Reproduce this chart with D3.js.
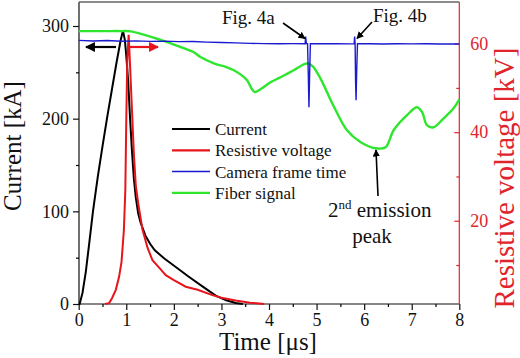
<!DOCTYPE html>
<html><head><meta charset="utf-8">
<script src="https://cdn.jsdelivr.net/npm/d3@7"></script>
<style>body{margin:0;background:#fff}svg{display:block}</style>
</head><body><svg id="c" width="520" height="358" font-family="'Liberation Serif', 'DejaVu Serif', Times, serif"></svg>
<script>
// time [µs], current [kA]
const currentT = [0,0.02,0.08,0.15,0.22,0.3,0.4,0.5,0.6,0.7,0.8,0.88,0.93,0.97,1.0,1.04,1.08,1.12,1.16,1.2,1.25,1.3,1.4,1.5,1.6,1.8,2.04,2.3,2.6,2.88,3.1,3.3,3.45];
const currentI = [0,0,12,35,65,100,137,170,202,232,262,284,295,285,268,240,200,165,135,115,98,88,74,65,58,49,40,30,19,9,4,1,0];
// time [µs], resistive voltage [kV]
const voltT = [0.55,0.64,0.7,0.78,0.85,0.9,0.95,0.98,1.0,1.02,1.05,1.08,1.12,1.16,1.2,1.25,1.34,1.45,1.55,1.7,1.83,2.0,2.25,2.5,2.81,3.0,3.3,3.6,3.9];
const voltV = [1.2,1.4,2.5,4.4,7.4,10.7,17.9,26.9,42.7,56,62,55,45,35,28,24,18,13.8,11.1,9.3,7.7,6.6,5.1,4.4,3.2,2.6,2.0,1.5,1.2];
// camera frame time (left-axis units)
const camT = [0,0.3,0.6,0.9,1.2,1.5,1.8,2.1,2.4,2.7,3.0,3.3,3.6,3.9,4.2,4.5,4.76,4.77,4.785,4.81,4.825,4.84,4.855,4.87,5.1,5.4,5.7,5.79,5.8,5.81,5.82,5.83,5.845,5.86,6.1,6.4,6.7,7.0,7.3,7.6,7.9,8.0];
const camI = [284.5,283.8,284.3,283.5,284.0,283.4,283.7,283.1,283.3,282.6,282.2,281.8,281.3,281.0,280.8,281.0,280.9,288.5,281.2,281.0,250,212.3,250,281.0,280.8,281.0,280.7,280.9,288.5,281.0,240,219.8,255,281.0,280.8,280.6,280.9,280.7,280.8,280.5,280.7,280.6];
// fiber signal (arbitrary, left-axis units)
const fibT = [0,0.5,0.9,1.09,1.72,2.14,2.42,2.56,2.84,3.09,3.26,3.40,3.54,3.63,3.70,3.82,4.03,4.24,4.52,4.73,4.81,4.92,5.08,5.36,5.64,5.92,6.24,6.45,6.62,6.90,7.11,7.22,7.32,7.46,7.67,7.88,8.0];
const fibI = [294.5,294.5,294.5,294.2,285.0,277.3,271.6,266.5,259.7,255.9,252.2,247.8,241.4,232.8,228.8,231.7,239.2,244.6,252.2,258.6,259.7,256.5,243.5,213.4,187.5,174.9,168.1,169.2,187.5,203.7,212.3,206.9,192.9,190.7,200.4,211.2,220.9];
const xTicks = [0,1,2,3,4,5,6,7,8];
const leftTicks = [0,100,200,300];
const rightTicks = [20,40,60];
const legendLabels = ["Current","Resistive voltage","Camera frame time","Fiber signal"];

const FONT = "'Liberation Serif', 'DejaVu Serif', Times, serif";
const colors = {black:"#000", red:"#e8141c", blue:"#1a1ad0", green:"#2ee62e", axisRed:"#e0242c"};
const svg = d3.select("#c");
const L = 79, R = 459.3, T = 2, B = 304;
const x = d3.scaleLinear().domain([0,8]).range([78.7,R]);
const yL = d3.scaleLinear().domain([0,325.9]).range([B,T]);
const yR = d3.scaleLinear().domain([1.2,69.4]).range([B,T]);

// axes
const axB = d3.axisBottom(x).tickValues(xTicks).tickSize(6).tickPadding(3).tickFormat(d3.format("d"));
const gB = svg.append("g").attr("transform",`translate(0,${B})`).call(axB);
const axBm = d3.axisBottom(x).tickValues(d3.range(0.5,8,1)).tickSize(3).tickFormat("");
svg.append("g").attr("transform",`translate(0,${B})`).call(axBm).select(".domain").remove();
const axL = d3.axisLeft(yL).tickValues(leftTicks).tickSize(6).tickPadding(4).tickFormat(d3.format("d"));
const gL = svg.append("g").attr("transform",`translate(${L},0)`).call(axL);
const axLm = d3.axisLeft(yL).tickValues([50,150,250]).tickSize(3).tickFormat("");
svg.append("g").attr("transform",`translate(${L},0)`).call(axLm).select(".domain").remove();
const axR = d3.axisRight(yR).tickValues(rightTicks).tickSizeInner(-5).tickSizeOuter(0).tickPadding(11).tickFormat(d3.format("d"));
const gR = svg.append("g").attr("transform",`translate(${R},0)`).call(axR);
const axRm = d3.axisRight(yR).tickValues([10,30,50]).tickSizeInner(-3).tickSizeOuter(0).tickFormat("");
const gRm = svg.append("g").attr("transform",`translate(${R},0)`).call(axRm);
gRm.select(".domain").remove();
svg.selectAll("g").attr("font-family",FONT);
[gB,gL].forEach(g=>{g.selectAll("text").attr("font-size",18).attr("fill","#111");g.selectAll("line,path").attr("stroke","#111").attr("stroke-width",1.2);});
gL.select(".domain").attr("d",`M0,${B}V${T}`);
gB.select(".domain").attr("d",`M${L},0H${R}`);
gR.selectAll("text").attr("font-size",18).attr("fill",colors.axisRed);
gR.selectAll("line,path").attr("stroke",colors.axisRed).attr("stroke-width",1.2);
gR.select(".domain").attr("d",`M0,${B}V${T}`);
gRm.selectAll("line").attr("stroke",colors.axisRed).attr("stroke-width",1.2);
svg.selectAll(".tick line").attr("stroke-width",1.2);
// top frame
svg.append("line").attr("x1",L).attr("x2",R).attr("y1",T).attr("y2",T).attr("stroke","#666").attr("stroke-width",1.5);

// series
const lineL = (ts,vs)=>d3.line().x((d,i)=>x(ts[i])).y((d,i)=>yL(vs[i]))(ts);
const lineR = (ts,vs)=>d3.line().x((d,i)=>x(ts[i])).y((d,i)=>yR(vs[i]))(ts);
svg.append("path").attr("d",lineL(currentT,currentI)).attr("fill","none").attr("stroke",colors.black).attr("stroke-width",2);
svg.append("path").attr("d",lineR(voltT,voltV)).attr("fill","none").attr("stroke",colors.red).attr("stroke-width",2);
svg.append("path").attr("d",d3.line().curve(d3.curveCatmullRom).x((d,i)=>x(fibT[i])).y((d,i)=>yL(fibI[i]))(fibT)).attr("fill","none").attr("stroke",colors.green).attr("stroke-width",2.4);
svg.append("path").attr("d",lineL(camT,camI)).attr("fill","none").attr("stroke",colors.blue).attr("stroke-width",1.4);

// legend
const legColors = [colors.black,colors.red,colors.blue,colors.green];
const legW = [2.2,2.2,1.5,2.4];
legendLabels.forEach((lab,i)=>{
  const yy = 129 + i*21.3;
  svg.append("line").attr("x1",172).attr("x2",210).attr("y1",yy).attr("y2",yy).attr("stroke",legColors[i]).attr("stroke-width",legW[i]);
  svg.append("text").attr("x",215).attr("y",yy+6).attr("font-size",17).attr("fill","#111").text(lab);
});

// arrow markers
const defs = svg.append("defs");
function mk(id,col){defs.append("marker").attr("id",id).attr("viewBox","0 0 10 10").attr("refX",9).attr("refY",5).attr("markerWidth",4.5).attr("markerHeight",4.5).attr("orient","auto").attr("markerUnits","strokeWidth").append("path").attr("d","M0,0L10,5L0,10z").attr("fill",col);}
mk("ak","#000"); mk("ar",colors.red);
function arrow(x1,y1,x2,y2,col,id,w){svg.append("line").attr("x1",x1).attr("y1",y1).attr("x2",x2).attr("y2",y2).attr("stroke",col).attr("stroke-width",w).attr("marker-end",`url(#${id})`);}
arrow(116,47,86,47,"#000","ak",2.2);
arrow(129,47,158,47,colors.red,"ar",2.2);
arrow(283,23,305,38.5,"#000","ak",1.6);
arrow(372,22,357,38.5,"#000","ak",1.6);
arrow(378,196,376,150,"#000","ak",1.6);

// annotations
svg.append("text").attr("x",222).attr("y",24).attr("font-size",19).attr("fill","#111").text("Fig. 4a");
svg.append("text").attr("x",373).attr("y",22).attr("font-size",19).attr("fill","#111").text("Fig. 4b");
const t2 = svg.append("text").attr("x",328).attr("y",217).attr("font-size",21).attr("fill","#111");
t2.append("tspan").text("2");
t2.append("tspan").attr("dy",-8).attr("font-size",13).text("nd");
t2.append("tspan").attr("dy",8).text(" emission");
svg.append("text").attr("x",372).attr("y",243).attr("font-size",21).attr("text-anchor","middle").attr("fill","#111").text("peak");

// titles
svg.append("text").attr("transform","translate(21,146) rotate(-90)").attr("text-anchor","middle").attr("font-size",25).attr("fill","#111").text("Current [kA]");
svg.append("text").attr("x",268).attr("y",350).attr("text-anchor","middle").attr("font-size",25).attr("fill","#111").text("Time [\u03bcs]");
svg.append("text").attr("transform","translate(514,178) rotate(-90)").attr("text-anchor","middle").attr("font-size",29).attr("fill",colors.axisRed).text("Resistive voltage [kV]");
</script></body></html>
